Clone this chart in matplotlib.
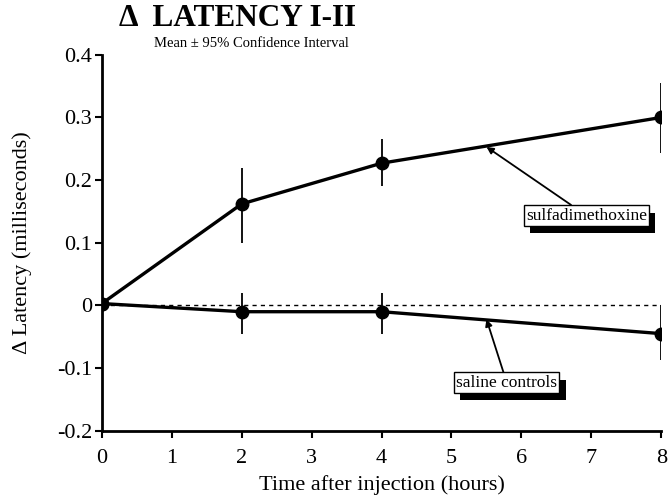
from matplotlib import pyplot as plt
from matplotlib import patheffects

plt.rcParams['font.family'] = ['Liberation Serif', 'DejaVu Serif']

# data
hours = [0, 2, 4, 8]
sulfa = [0.003, 0.162, 0.227, 0.300]
sulfa_lo = [0.008, 0.062, 0.037, 0.057]
sulfa_hi = [0.008, 0.058, 0.038, 0.055]
saline = [0.003, -0.010, -0.010, -0.045]
saline_lo = [0.008, 0.035, 0.035, 0.042]
saline_hi = [0.008, 0.030, 0.030, 0.045]

fig = plt.figure(figsize=(6.7, 4.98), dpi=100)
ax = fig.add_axes([0.152, 0.135, 0.835, 0.755])

# zero reference
ax.plot([0, 8], [0, 0], color="black", linestyle=(0, (3, 3)), linewidth=1)

ax.errorbar(hours, sulfa, yerr=[sulfa_lo, sulfa_hi], color="black", linewidth=2.4,
            marker="o", markersize=9, elinewidth=1.3, capsize=0, zorder=3)
ax.errorbar(hours, saline, yerr=[saline_lo, saline_hi], color="black", linewidth=2.4,
            marker="o", markersize=9, elinewidth=1.3, capsize=0, zorder=3)

ax.set_xlim(0, 8)
ax.set_ylim(-0.2, 0.4)
ax.set_xticks(range(0, 9))
ax.set_yticks([-0.2, -0.1, 0, 0.1, 0.2, 0.3, 0.4])
ax.set_yticklabels(["-0.2", "-0.1", "0", "0.1", "0.2", "0.3", "0.4"])
ax.tick_params(labelsize=16, width=1.5, length=5, pad=2)
ax.tick_params(axis="x", pad=8)
for s in ["top", "right"]:
    ax.spines[s].set_visible(False)
for s in ["left", "bottom"]:
    ax.spines[s].set_linewidth(2)

ax.set_xlabel("Time after injection (hours)", fontsize=16, labelpad=5)
ax.set_ylabel("\u0394 Latency (milliseconds)", fontsize=16, labelpad=18)

fig.text(0.354, 0.962, "\u0394  LATENCY I-II", fontsize=22.5, fontweight="bold",
         ha="center", va="center")
fig.text(0.376, 0.913, "Mean \u00b1 95% Confidence Interval", fontsize=10.5,
         ha="center", va="center")


def label(text, xy, xytext):
    ann = ax.annotate(text, xy=xy, xytext=xytext, textcoords="data", fontsize=12.5,
                      ha="center", va="center",
                      bbox=dict(boxstyle="square,pad=0.12", fc="white", ec="black", lw=1),
                      arrowprops=dict(arrowstyle="-|>", color="black", lw=1.3,
                                      mutation_scale=10, shrinkA=0, shrinkB=0),
                      zorder=5, annotation_clip=False)
    # black drop shadow like the original
    ann.get_bbox_patch().set_path_effects([
        patheffects.SimplePatchShadow(offset=(4.5, -5.5), shadow_rgbFace="black", alpha=1),
        patheffects.Normal()])


label("sulfadimethoxine", (5.5, 0.253), (6.93, 0.1435))
label("saline controls", (5.5, -0.022), (5.79, -0.123))

plt.savefig("out.png", dpi=100)
